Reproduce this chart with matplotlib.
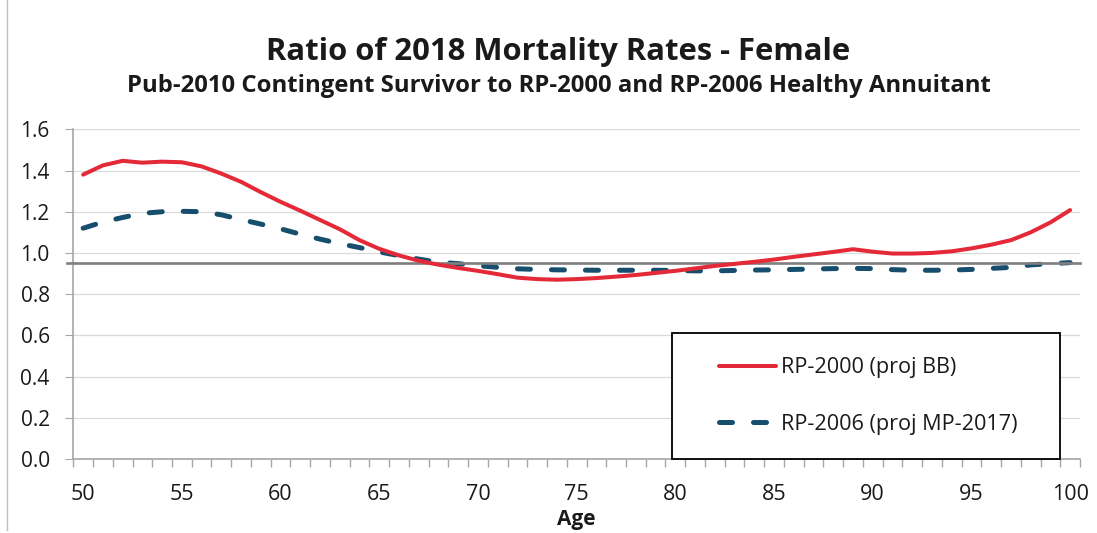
import matplotlib
matplotlib.use("Agg")
import matplotlib.pyplot as plt
from matplotlib.patches import Rectangle
from matplotlib.lines import Line2D

plt.rcParams['font.family'] = ['Open Sans', 'DejaVu Sans']

ages = list(range(50, 101))
rp2000_bb = [1.380, 1.425, 1.447, 1.438, 1.443, 1.440, 1.420, 1.385, 1.345, 1.295,
             1.248, 1.205, 1.160, 1.115, 1.062, 1.020, 0.988, 0.962, 0.943, 0.927,
             0.913, 0.897, 0.880, 0.873, 0.870, 0.873, 0.878, 0.885, 0.893, 0.903,
             0.913, 0.925, 0.937, 0.947, 0.957, 0.968, 0.981, 0.993, 1.005, 1.018,
             1.006, 0.997, 0.997, 1.000, 1.008, 1.022, 1.040, 1.062, 1.100, 1.148,
             1.208]
rp2006_mp2017 = [1.120, 1.150, 1.172, 1.192, 1.200, 1.202, 1.200, 1.185, 1.162, 1.140,
                 1.117, 1.091, 1.067, 1.045, 1.026, 1.005, 0.987, 0.970, 0.955, 0.948,
                 0.938, 0.930, 0.923, 0.920, 0.918, 0.917, 0.916, 0.916, 0.916, 0.916,
                 0.915, 0.913, 0.913, 0.915, 0.917, 0.918, 0.920, 0.922, 0.924, 0.925,
                 0.924, 0.919, 0.916, 0.916, 0.917, 0.920, 0.925, 0.930, 0.942, 0.948,
                 0.953]
reference_level = 0.95
series_labels = ["RP-2000 (proj BB)", "RP-2006 (proj MP-2017)"]
x_ticks = list(range(50, 101, 5))
y_ticks = [0.0, 0.2, 0.4, 0.6, 0.8, 1.0, 1.2, 1.4, 1.6]
title = "Ratio of 2018 Mortality Rates - Female"
subtitle = "Pub-2010 Contingent Survivor to RP-2000 and RP-2006 Healthy Annuitant"
x_label = "Age"

W, H = 1097, 533
fig = plt.figure(figsize=(W / 100, H / 100), dpi=100)
ax_left, ax_right, ax_bottom, ax_top = 73.3, 1080, 459, 129.3
ax = fig.add_axes([ax_left / W, 1 - ax_bottom / H, (ax_right - ax_left) / W, (ax_bottom - ax_top) / H])

RED = "#E42A38"
BLUE = "#174E6E"
GRID = "#D9D9D9"
AXC = "#A6A6A6"
TXT = "#1a1a1a"

ax.set_xlim(49.5, 100.5)
ax.set_ylim(0, 1.6)
ax.set_yticks(y_ticks)
ax.set_yticklabels([f"{v:.1f}" for v in y_ticks])
ax.set_xticks(x_ticks)
ax.set_xticks([a - 0.5 for a in ages] + [100.5], minor=True)
ax.grid(axis='y', color=GRID, linewidth=0.9)
ax.set_axisbelow(True)

for s in ['top', 'right']:
    ax.spines[s].set_visible(False)
for s in ['left', 'bottom']:
    ax.spines[s].set_color(AXC)
    ax.spines[s].set_linewidth(1.2)

ax.tick_params(axis='y', which='major', length=6, color=AXC, labelsize=15, pad=11, labelcolor=TXT)
ax.tick_params(axis='x', which='major', length=0, labelsize=15.5, pad=18, labelcolor=TXT)
ax.tick_params(axis='x', which='minor', length=6, color=AXC, width=1)

l2, = ax.plot(ages, rp2006_mp2017, color=BLUE, linewidth=3.6, dashes=(2.6, 4.2),
              dash_capstyle='round', label=series_labels[1], zorder=3)
ax.plot([49.2, 100.5], [reference_level, reference_level], color="#7F7F7F", linewidth=1.9,
        clip_on=False, zorder=4)
l1, = ax.plot(ages, rp2000_bb, color=RED, linewidth=2.9, solid_capstyle='round',
              label=series_labels[0], zorder=5)

# legend box
bx0 = (671.7 - ax_left) / (ax_right - ax_left)
bx1 = (1060 - ax_left) / (ax_right - ax_left)
by1 = (ax_bottom - 333) / (ax_bottom - ax_top)
ax.add_patch(Rectangle((bx0, 0), bx1 - bx0, by1, transform=ax.transAxes, facecolor='white',
                       edgecolor='black', linewidth=1.3, zorder=6, clip_on=False))
hx = (719 - ax_left) / (ax_right - ax_left)
leg = ax.legend(handles=[l1, l2], loc='center left', bbox_to_anchor=(hx, by1 / 2),
                frameon=False, borderpad=0, borderaxespad=0, handlelength=2.65,
                handletextpad=0.2, labelspacing=1.65, fontsize=15.6)
leg.set_zorder(7)
for t in leg.get_texts():
    t.set_color(TXT)

ax.set_xlabel(x_label, fontsize=15, fontweight='bold', labelpad=3, color=TXT)

fig.text(558 / W, 1 - 60 / H, title, ha='center', va='baseline', fontsize=22.3, fontweight='bold', color=TXT)
fig.text(559 / W, 1 - 91.5 / H, subtitle, ha='center', va='baseline', fontsize=17.2, fontweight='bold', color=TXT)

fig.add_artist(Line2D([7 / W, 7 / W], [1 - 530 / H, 1.0], transform=fig.transFigure, color='#BFBFBF', linewidth=1))

fig.savefig("out.png", dpi=100)
